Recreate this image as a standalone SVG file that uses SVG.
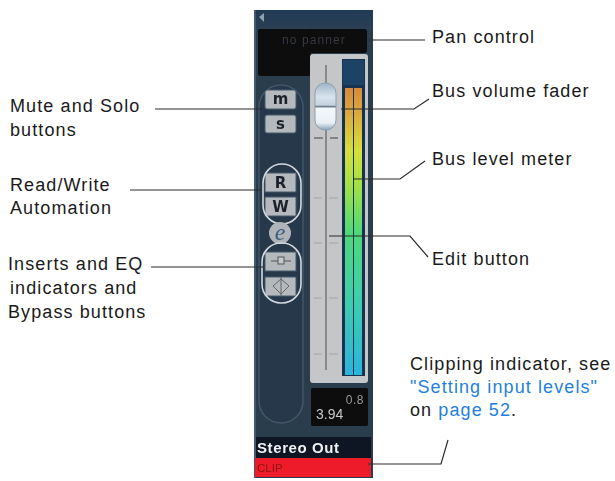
<svg xmlns="http://www.w3.org/2000/svg" width="615" height="481" viewBox="0 0 615 481">
<defs>
<linearGradient id="meter" x1="0" y1="0" x2="0" y2="1">
<stop offset="0" stop-color="#d88a3a"/><stop offset="0.1" stop-color="#dcae3c"/><stop offset="0.22" stop-color="#d6e03a"/><stop offset="0.36" stop-color="#9ae04a"/><stop offset="0.5" stop-color="#50d878"/><stop offset="0.72" stop-color="#3fcfa8"/><stop offset="1" stop-color="#2ab4dc"/>
</linearGradient>
<linearGradient id="knob" x1="0" y1="0" x2="0" y2="1">
<stop offset="0" stop-color="#9fb4c6"/><stop offset="0.3" stop-color="#d8e4ee"/><stop offset="0.47" stop-color="#c4d2de"/><stop offset="0.5" stop-color="#6f7e8b"/><stop offset="0.54" stop-color="#f4f8fb"/><stop offset="0.85" stop-color="#e8f0f6"/><stop offset="1" stop-color="#8aa2b6"/>
</linearGradient>
<linearGradient id="top" x1="0" y1="0" x2="0" y2="1">
<stop offset="0" stop-color="#1f3b54"/><stop offset="1" stop-color="#2b3f52"/>
</linearGradient>
<filter id="soft" x="-5%" y="-5%" width="110%" height="110%"><feGaussianBlur stdDeviation="0.45"/></filter>
</defs>
<style>
text{font-family:"Liberation Sans",Arial,sans-serif;font-size:18px;letter-spacing:1.1px;fill:#1a1a1a}
.link{fill:#1f7fe0}
.btn{fill:#b4b9bd;stroke:#46596a;stroke-width:1}
.btxt{font-family:"DejaVu Sans",sans-serif;font-weight:700;font-size:15px;letter-spacing:0;fill:#1c2229;text-anchor:middle}
.ring{fill:none;stroke:#d4d9dd;stroke-width:1.6}
.tick{stroke:#a3a5a6;stroke-width:1}
.conn{fill:none;stroke:#2a2a2a;stroke-width:1.2}
</style>
<g filter="url(#soft)">
<g id="channel-strip">
<rect x="254" y="10" width="119" height="468" fill="#2a3c4e"/>
<rect x="254" y="10" width="119" height="20" fill="url(#top)"/>
<rect x="254" y="10" width="2" height="468" fill="#46596a"/>
<polygon points="259,17 264,13 264,22" fill="#8fa0ae"/>
<rect x="258" y="29" width="109" height="24" rx="3" fill="#07090c"/>
<rect x="258" y="29" width="53" height="47" rx="3" fill="#07090c"/>
<text x="314" y="44" text-anchor="middle" style="font-size:12px;fill:#3a3d40;letter-spacing:1.1px">no panner</text>
<rect x="259" y="85" width="44" height="338" rx="22" fill="#26384a" stroke="#42566a" stroke-width="1.5"/>
</g>
<g id="fader-panel">
<rect x="310" y="54" width="58" height="329" rx="3" fill="#c4c6c7"/>
<line x1="326" y1="65" x2="326" y2="370" stroke="#87898a" stroke-width="2"/>
<g class="tick"><line x1="314" y1="198" x2="322" y2="198"/><line x1="329" y1="198" x2="338" y2="198"/><line x1="314" y1="243" x2="322" y2="243"/><line x1="329" y1="243" x2="338" y2="243"/><line x1="314" y1="298" x2="322" y2="298"/><line x1="329" y1="298" x2="338" y2="298"/><line x1="314" y1="354" x2="322" y2="354"/><line x1="329" y1="354" x2="338" y2="354"/></g>
<g stroke="#55585a" stroke-width="1.2"><line x1="314" y1="138" x2="323" y2="138"/><line x1="330" y1="138" x2="338" y2="138"/></g>
</g>
<g id="fader-knob">
<rect x="315" y="83" width="21" height="47" rx="10" fill="url(#knob)" stroke="#8ea0ae" stroke-width="1"/>
</g>
<g id="level-meter">
<rect x="342" y="59" width="23" height="317" fill="#17334f"/>
<rect x="343" y="60" width="21" height="25" fill="#1d4266"/>
<rect x="345" y="88" width="8" height="287" fill="url(#meter)"/>
<rect x="354" y="88" width="8" height="287" fill="url(#meter)"/>
</g>
<g id="value-display">
<rect x="311" y="388" width="57" height="38" rx="2" fill="#07090c"/>
<text x="364" y="404" text-anchor="end" style="font-size:12px;letter-spacing:.5px;fill:#9a9c9c">0.8</text>
<text x="316" y="419" style="font-size:14px;letter-spacing:0;fill:#c9cbc6">3.94</text>
</g>
<g id="mute-solo">
<rect x="265" y="90" width="31" height="19" rx="2" class="btn"/>
<text x="280.500" y="104" class="btxt">m</text>
<rect x="265" y="115" width="31" height="18" rx="2" class="btn"/>
<text x="280.500" y="129" class="btxt">s</text>
</g>
<g id="read-write">
<rect x="265" y="173" width="31" height="19" class="btn"/>
<text x="280.500" y="188" class="btxt">R</text>
<rect x="265" y="197" width="31" height="19" class="btn"/>
<text x="280.500" y="212" class="btxt">W</text>
<rect x="263" y="164" width="38" height="60" rx="19" class="ring"/>
</g>
<g id="edit-button">
<circle cx="280" cy="233" r="11" fill="#aeb4b9"/>
<text x="280" y="240" text-anchor="middle" style="font-family:'Liberation Serif',serif;font-style:italic;font-size:24px;letter-spacing:0;fill:#3e5a78">e</text>
</g>
<g id="inserts-eq">
<rect x="265" y="252" width="31" height="19" class="btn"/>
<line x1="271" y1="261" x2="291" y2="261" stroke="#555" stroke-width="1"/><rect x="278" y="257" width="6" height="7" fill="#c4c8cc" stroke="#555"/>
<rect x="265" y="277" width="31" height="19" class="btn"/>
<polygon points="273,286 281,279 289,286 281,294" fill="none" stroke="#666"/><line x1="281" y1="277" x2="281" y2="296" stroke="#666"/>
<rect x="262" y="243" width="39" height="60" rx="19" class="ring"/>
</g>
<g id="strip-footer">
<rect x="256" y="437" width="115" height="21" fill="#0b1522"/>
<text x="257" y="453" style="font-weight:700;font-size:15px;letter-spacing:.6px;fill:#f0f2f4">Stereo Out</text>
<rect x="255" y="458" width="116" height="19" fill="#ee1f2c"/>
<text x="257" y="472" style="font-size:11.500px;letter-spacing:0;fill:#8c1010">CLIP</text>
</g>
</g>
<g id="connectors">
<polyline class="conn" points="155,109 262,109"/>
<polyline class="conn" points="130,190 261,190"/>
<polyline class="conn" points="151,267 263,267"/>
<polyline class="conn" points="367,40 425,40"/>
<polyline class="conn" points="341,109 414,109 429,99"/>
<polyline class="conn" points="354,179 400,179 425,161"/>
<polyline class="conn" points="329,236 410,236 428,257"/>
<polyline class="conn" points="368,464 441,464 448,440"/>
</g>
<g id="labels">
<text x="10" y="112">Mute and Solo</text>
<text x="10" y="136">buttons</text>
<text x="10" y="191">Read/Write</text>
<text x="10" y="214">Automation</text>
<text x="8" y="270">Inserts and EQ</text>
<text x="10" y="294">indicators and</text>
<text x="8" y="318">Bypass buttons</text>
<text x="432" y="43">Pan control</text>
<text x="432" y="97">Bus volume fader</text>
<text x="432" y="165">Bus level meter</text>
<text x="432" y="265">Edit button</text>
<text x="410" y="370">Clipping indicator, see</text>
<text x="410" y="393" class="link">"Setting input levels"</text>
<text x="410" y="416">on <tspan class="link">page 52</tspan>.</text>
</g>
</svg>
